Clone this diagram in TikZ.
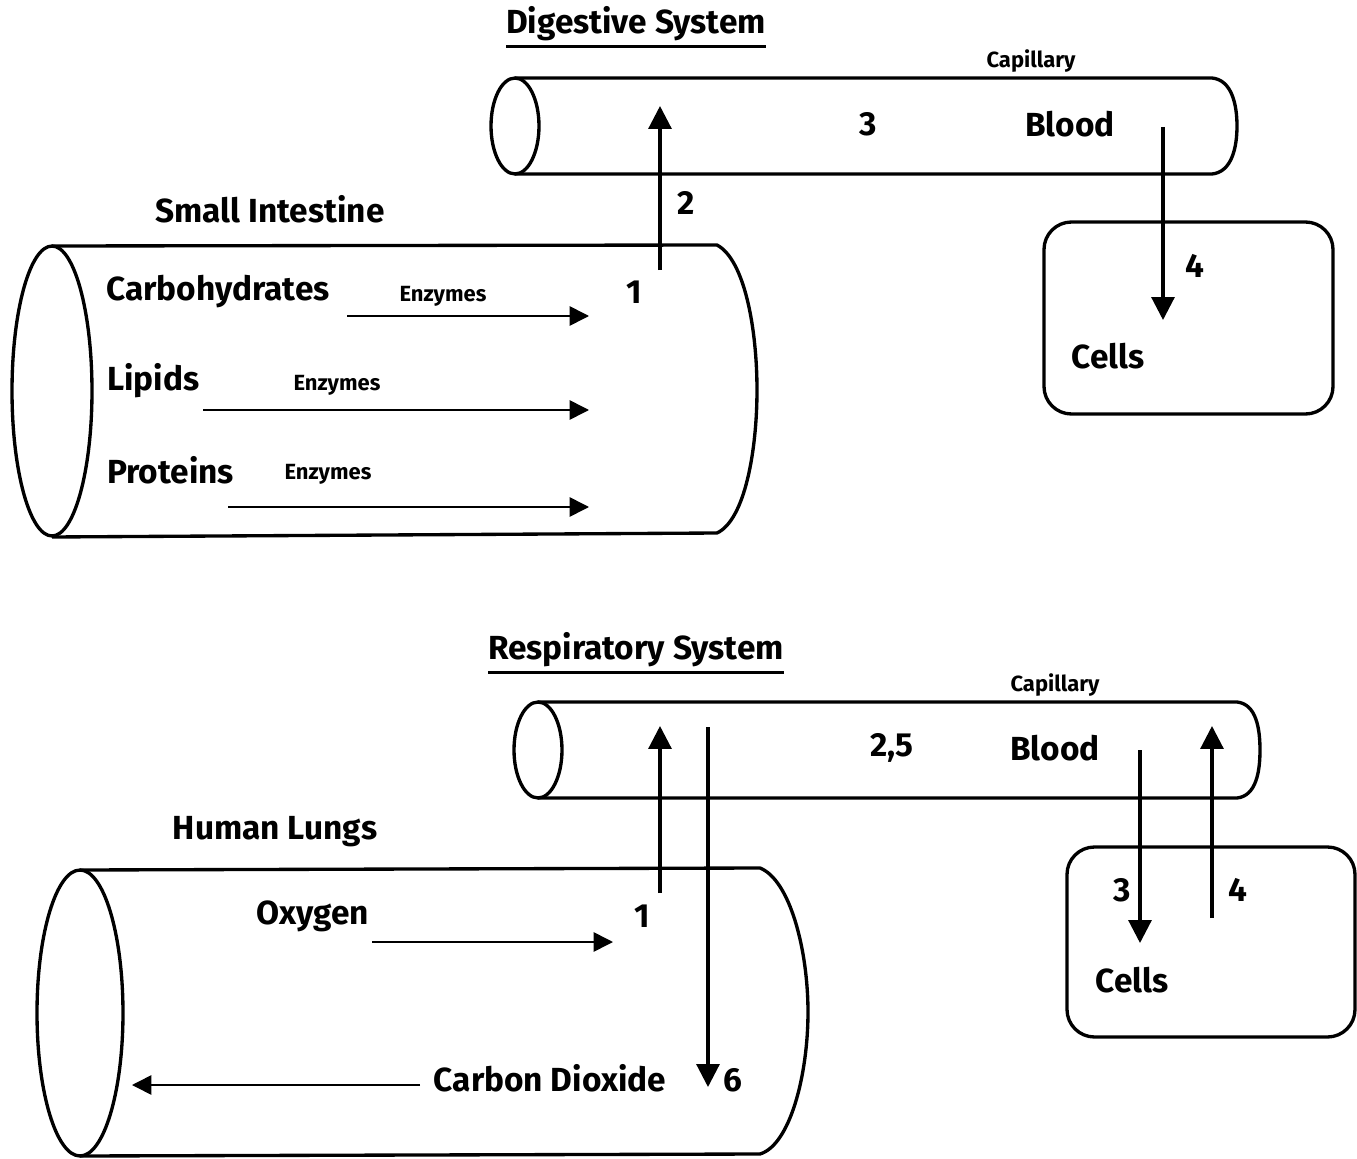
\documentclass[tikz,border=0pt]{standalone}
\usepackage{fontspec}
\setmainfont{Fira Sans}
\usetikzlibrary{arrows.meta}

\newcommand{\thickul}[1]{\leavevmode\vtop{\hbox{#1}\kern2.5pt\hrule height 1.6pt}}

\tikzset{
  tube/.style={draw, line width=1.9pt, line join=round},
  thinarrow/.style={draw, line width=0.9pt, -{Triangle[length=11pt, width=11pt]}},
  thickarrow/.style={draw, line width=1.8pt, -{Triangle[length=13pt, width=13pt]}},
  bigtext/.style={font=\bfseries\fontsize{19}{19}\selectfont},
  smalltext/.style={font=\bfseries\fontsize{12.5}{12.5}\selectfont},
}

\begin{document}
\begin{tikzpicture}[x=0.02cm, y=-0.02cm]

      \useasboundingbox (0,0) rectangle (1357,1159);

      % digestive system
      \draw[tube] (515,78) -- (1212,78) .. controls (1232,80) and (1237,105) .. (1237,126)
                  .. controls (1237,147) and (1232,172) .. (1212,174) -- (515,174);
      \draw[tube] (515,126) ellipse [x radius=0.48cm, y radius=0.96cm];

      \draw[tube] (52,246) -- (717,245) .. controls (745,260) and (757,330) .. (757,390)
                  .. controls (757,450) and (745,520) .. (717,533) -- (52,537);
      \draw[tube] (52,391) ellipse [x radius=0.8cm, y radius=2.9cm];

      \draw[tube, rounded corners=0.55cm] (1044,222) rectangle (1333,414);

      \begin{scope}[every node/.style={bigtext}]
        \node (dtitle)  at (636,27)  {\thickul{Digestive System}};
        \node (intest)  at (270,209) {Small Intestine};
        \node (carb)    at (218,292) {Carbohydrates};
        \node[anchor=west] (lipid) at (101,381) {Lipids};
        \node[anchor=west] (prot)  at (101,470) {Proteins};
        \node (d1)      at (634,292) {1};
        \node (d2)      at (686,203) {2};
        \node (d3)      at (868,124) {3};
        \node (dblood)  at (1070,124) {Blood};
        \node (d4)      at (1195,266) {4};
        \node (dcells)  at (1108,356) {Cells};
      \end{scope}

      \begin{scope}[every node/.style={smalltext}]
        \node (dcap)  at (1031,61)  {Capillary};
        \node (enz1)  at (443,296)  {Enzymes};
        \node (enz2)  at (337,385)  {Enzymes};
        \node (enz3)  at (328,474)  {Enzymes};
      \end{scope}

      \coordinate (a1s) at (347,316);  \coordinate (a1e) at (589,316);
      \coordinate (a2s) at (203,410);  \coordinate (a2e) at (589,410);
      \coordinate (a3s) at (228,507);  \coordinate (a3e) at (589,507);
      \coordinate (up2s) at (660,270); \coordinate (up2e) at (660,106);
      \coordinate (dn4s) at (1163,127); \coordinate (dn4e) at (1163,320);

      \path (a1s) edge[thinarrow] (a1e);
      \path (a2s) edge[thinarrow] (a2e);
      \path (a3s) edge[thinarrow] (a3e);
      \path (up2s) edge[thickarrow] (up2e);
      \path (dn4s) edge[thickarrow] (dn4e);

      % respiratory system
      \draw[tube] (538,702) -- (1237,702) .. controls (1256,704) and (1260,728) .. (1260,750)
                  .. controls (1260,772) and (1256,796) .. (1237,798) -- (538,798);
      \draw[tube] (538,750) ellipse [x radius=0.48cm, y radius=0.96cm];

      \draw[tube] (80,870) -- (760,868) .. controls (790,880) and (808,950) .. (808,1012)
                  .. controls (808,1075) and (790,1145) .. (760,1154) -- (80,1156);
      \draw[tube] (80,1013) ellipse [x radius=0.86cm, y radius=2.86cm];

      \draw[tube, rounded corners=0.55cm] (1067,847) rectangle (1355,1037);

      \begin{scope}[every node/.style={bigtext}]
        \node (rtitle)  at (636,653)  {\thickul{Respiratory System}};
        \node (lungs)   at (275,832)  {Human Lungs};
        \node (oxy)     at (313,916)  {Oxygen};
        \node (cdiox)   at (550,1078) {Carbon Dioxide};
        \node (r1)      at (642,916)  {1};
        \node (r6)      at (733,1080) {6};
        \node (r25)     at (892,748)  {2,5};
        \node (rblood)  at (1055,748) {Blood};
        \node (r3)      at (1122,890) {3};
        \node (r4)      at (1238,890) {4};
        \node (rcells)  at (1132,980) {Cells};
      \end{scope}

      \node[smalltext] (rcap) at (1055,685) {Capillary};

      \coordinate (oxs) at (372,942);   \coordinate (oxe) at (613,942);
      \coordinate (cos) at (420,1085);  \coordinate (coe) at (132,1085);
      \coordinate (up1s) at (660,893);  \coordinate (up1e) at (660,726);
      \coordinate (dn6s) at (708,727);  \coordinate (dn6e) at (708,1087);
      \coordinate (dn3s) at (1140,750); \coordinate (dn3e) at (1140,943);
      \coordinate (up4s) at (1212,918); \coordinate (up4e) at (1212,726);

      \path (oxs) edge[thinarrow] (oxe);
      \path (cos) edge[thinarrow] (coe);
      \path (up1s) edge[thickarrow] (up1e);
      \path (dn6s) edge[thickarrow] (dn6e);
      \path (dn3s) edge[thickarrow] (dn3e);
      \path (up4s) edge[thickarrow] (up4e);

\end{tikzpicture}
\end{document}
